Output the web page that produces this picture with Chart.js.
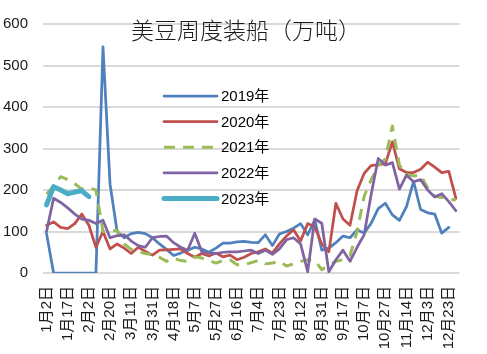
<!DOCTYPE html>
<html>
<head>
<meta charset="utf-8">
<script src="https://cdn.jsdelivr.net/npm/chart.js@4/dist/chart.umd.min.js"></script>
<style>
html,body{margin:0;padding:0;background:#fff;}
#wrap{width:487px;height:354px;position:relative;}
</style>
</head>
<body>
<div id="wrap"><canvas id="c" width="487" height="354"></canvas></div>
<script>
// ---- data ----
const categories = [
  '1月2日','1月7日','1月12日','1月17日','1月22日','1月27日','2月2日','2月8日','2月14日','2月20日',
  '2月26日','3月4日','3月11日','3月18日','3月24日','3月31日','4月6日','4月12日','4月18日','4月24日',
  '5月1日','5月7日','5月14日','5月20日','5月27日','6月3日','6月10日','6月16日','6月22日','6月28日',
  '7月4日','7月10日','7月17日','7月23日','7月30日','8月5日','8月12日','8月18日','8月25日','8月31日',
  '9月6日','9月11日','9月17日','9月24日','9月30日','10月7日','10月14日','10月20日','10月27日','11月2日',
  '11月8日','11月14日','11月21日','11月27日','12月3日','12月10日','12月16日','12月23日','12月30日'
];
const labelEvery = 3;

const s2019 = [95,0,0,0,0,0,0,0,545,214,100,85,95,98,95,85,70,57,42,48,55,62,58,50,60,72,72,75,76,74,73,92,66,94,100,108,119,92,128,55,60,73,89,85,104,96,120,155,168,140,127,160,221,153,145,142,96,110,null];
const s2020 = [115,123,110,107,119,142,115,62,100,58,70,60,47,62,52,43,55,56,57,58,47,38,47,41,48,39,43,32,38,47,51,58,48,70,89,104,77,119,111,70,51,168,130,115,198,240,259,261,263,316,251,242,242,250,267,255,242,245,180];
const s2021 = [190,210,232,225,215,202,205,200,100,100,103,70,57,51,47,44,38,28,36,30,28,39,36,30,24,30,32,20,20,25,30,22,24,28,17,22,28,32,30,8,20,28,32,42,100,185,225,258,275,354,260,238,234,236,205,185,182,178,176];
const s2022 = [100,180,170,157,142,130,127,119,127,85,90,92,77,66,62,85,88,89,73,62,55,96,51,48,47,50,51,51,53,55,47,55,45,58,80,85,70,3,130,120,3,32,55,28,62,92,190,276,260,266,202,236,220,225,200,183,191,172,150];
const s2023 = [164,208,200,191,195,198,184];

const seriesNames = ['2019年','2020年','2021年','2022年','2023年'];
const yMin = 0, yMax = 600, yStep = 100;
const chartTitle = '美豆周度装船（万吨）';

// ---- chart ----
const latin = '"Liberation Sans", "Noto Sans CJK SC", sans-serif';

const overlay = {
  id: 'overlay',
  afterDraw(chart) {
    const ctx = chart.ctx;
    ctx.save();
    ctx.fillStyle = '#1a1a1a';
    ctx.font = '300 23px "Noto Sans CJK SC", sans-serif';
    ctx.textAlign = 'center';
    ctx.textBaseline = 'middle';
    ctx.fillText(chartTitle, 246, 30);

    const x0 = 164, x1 = 217, y0 = 96, dy = 25.6;
    chart.data.datasets.forEach((ds, k) => {
      const y = y0 + k * dy;
      ctx.strokeStyle = ds.borderColor;
      ctx.lineWidth = ds.borderWidth;
      ctx.setLineDash(ds.borderDash || []);
      ctx.lineCap = ds.borderCapStyle || 'round';
      ctx.beginPath();
      ctx.moveTo(x0, y);
      ctx.lineTo(x1, y);
      ctx.stroke();
      ctx.setLineDash([]);
      ctx.fillStyle = '#000';
      ctx.font = '15px ' + latin;
      ctx.textAlign = 'left';
      ctx.textBaseline = 'middle';
      ctx.fillText(ds.label, 221, y + 1);
    });
    ctx.restore();
  }
};

const styles = [
  {c:'#4F81BD', w:2.75, dash:[], cap:'round', order:5},
  {c:'#C0504D', w:2.75, dash:[], cap:'round', order:4},
  {c:'#9BBB59', w:3, dash:[11,8], cap:'butt', order:3},
  {c:'#8064A2', w:2.75, dash:[], cap:'round', order:2},
  {c:'#4BACC6', w:5, dash:[], cap:'round', order:1}
];
const allSeries = [s2019, s2020, s2021, s2022, s2023];

const datasets = allSeries.map((d, k) => ({
  label: seriesNames[k],
  data: d,
  borderColor: styles[k].c,
  backgroundColor: styles[k].c,
  borderWidth: styles[k].w,
  borderDash: styles[k].dash,
  borderCapStyle: styles[k].cap,
  borderJoinStyle: 'round',
  pointRadius: 0,
  pointHoverRadius: 0,
  tension: 0,
  fill: false,
  spanGaps: false,
  order: styles[k].order
}));

new Chart(document.getElementById('c'), {
  type: 'line',
  data: { labels: categories, datasets },
  options: {
    responsive: false,
    animation: false,
    devicePixelRatio: 1,
    layout: { padding: { top: 10, right: 13, left: 0, bottom: 0 }, autoPadding: false },
    plugins: { legend: { display: false }, title: { display: false }, tooltip: { enabled: false } },
    scales: {
      x: {
        type: 'category',
        offset: true,
        grid: { display: false, drawTicks: false },
        border: { display: false },
        ticks: {
          autoSkip: false,
          maxRotation: 90,
          minRotation: 90,
          padding: 13,
          color: '#1a1a1a',
          font: { family: latin, size: 15 },
          callback: function(v, i) { return i % labelEvery === 0 ? categories[i] : ''; }
        },
        afterFit: s => { s.height = 81; }
      },
      y: {
        min: yMin, max: yMax,
        grid: { color: '#d9d9d9', lineWidth: 2, drawTicks: false },
        border: { display: false },
        ticks: { stepSize: yStep, padding: 15, color: '#1a1a1a', font: { family: latin, size: 15 } },
        afterFit: s => { s.width = 43; }
      }
    }
  },
  plugins: [overlay]
});
</script>
</body>
</html>
